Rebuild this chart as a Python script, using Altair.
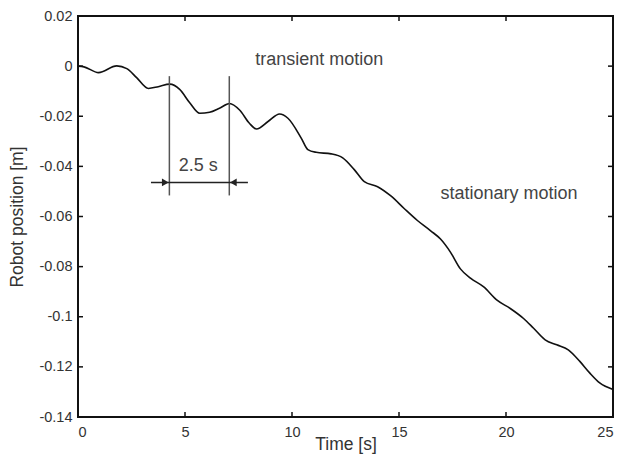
import altair as alt
import pandas as pd

# ---- data ----
time_s = [0, 0.28, 0.96, 1.81, 2.28, 2.74, 3.29, 3.75, 4.29, 4.75, 5.22, 5.69,
          6.15, 6.61, 7.08, 7.55, 8.01, 8.34, 8.88, 9.42, 9.81, 10.43, 10.74,
          11.13, 11.83, 12.37, 12.91, 13.38, 14.0, 14.62, 15.24, 15.86, 16.48,
          16.94, 17.41, 17.87, 18.34, 18.96, 19.58, 20.2, 20.82, 21.29, 21.83,
          22.37, 22.91, 23.45, 23.92, 24.38, 25.0]
position_m = [0.0, -0.0003, -0.0026, 0.0001, -0.0010, -0.0046, -0.0089, -0.0082,
              -0.0072, -0.0093, -0.0146, -0.0188, -0.0184, -0.0168, -0.0149,
              -0.0175, -0.0228, -0.0251, -0.0221, -0.0191, -0.0208, -0.0287,
              -0.0333, -0.0344, -0.0350, -0.0366, -0.0413, -0.0461, -0.0481,
              -0.0518, -0.0568, -0.0616, -0.0657, -0.0690, -0.0743, -0.0809,
              -0.0846, -0.0881, -0.0934, -0.0967, -0.1007, -0.1046, -0.1092,
              -0.1112, -0.1132, -0.1178, -0.1225, -0.1264, -0.1290]

x_ticks = [0, 5, 10, 15, 20, 25]
y_ticks = [0.02, 0, -0.02, -0.04, -0.06, -0.08, -0.1, -0.12, -0.14]

# period marker (2.5 s)
marker_t = [4.27, 7.07]
marker_top = -0.004
marker_bottom = -0.0516
arrow_t = [3.41, 7.94]
arrow_y = -0.0464
head_t = [4.08, 7.26]
head_shape = ["triangle-right", "triangle-left"]

labels_text = ["transient motion", "stationary motion", "2.5 s"]
labels_t = [11.27, 20.14, 5.62]
labels_y = [0.0023, -0.0512, -0.0398]

XT = "Time [s]"
YT = "Robot position [m]"
FONT = "Liberation Sans"
W, H = 535, 401

xs = alt.Scale(domain=[0, 25], nice=False, zero=False)
ys = alt.Scale(domain=[-0.14, 0.02], nice=False, zero=False)

curve = pd.DataFrame({"t": time_s, "y": position_m})
markers = pd.DataFrame({"t": marker_t, "y": [marker_top] * 2, "y2": [marker_bottom] * 2})
arrow = pd.DataFrame({"t": [arrow_t[0]], "t2": [arrow_t[1]], "y": [arrow_y]})
heads = pd.DataFrame({"t": head_t, "y": [arrow_y] * 2, "shape": head_shape})
texts = pd.DataFrame({"t": labels_t, "y": labels_y, "label": labels_text})
xt = pd.DataFrame({"t": x_ticks})
yt = pd.DataFrame({"y": y_ticks})

line = alt.Chart(curve).mark_line(color="#111", strokeWidth=1.6, interpolate="monotone").encode(
    x=alt.X("t:Q", scale=xs, title=XT,
            axis=alt.Axis(values=x_ticks, labelPadding=8, titleX=W / 2, titleY=27,
                          titleAlign="center", titleBaseline="middle")),
    y=alt.Y("y:Q", scale=ys, title=YT,
            axis=alt.Axis(values=y_ticks, labelPadding=6, labelExpr="'' + datum.value",
                          titleX=-61, titleY=H / 2, titleAngle=-90,
                          titleAlign="center", titleBaseline="middle")),
)

mark_lines = alt.Chart(markers).mark_rule(color="#555", strokeWidth=1.5).encode(
    x=alt.X("t:Q", scale=xs, title=XT),
    y=alt.Y("y:Q", scale=ys, title=YT),
    y2="y2:Q",
)

arrow_line = alt.Chart(arrow).mark_rule(color="#222", strokeWidth=1.5).encode(
    x=alt.X("t:Q", scale=xs, title=XT),
    x2="t2:Q",
    y=alt.Y("y:Q", scale=ys, title=YT),
)

arrow_heads = alt.Chart(heads).mark_point(filled=True, size=60, color="#222", opacity=1).encode(
    x=alt.X("t:Q", scale=xs, title=XT),
    y=alt.Y("y:Q", scale=ys, title=YT),
    shape=alt.Shape("shape:N", scale=None),
)

annot = alt.Chart(texts).mark_text(font=FONT, fontSize=18, color="#444").encode(
    x=alt.X("t:Q", scale=xs, title=XT),
    y=alt.Y("y:Q", scale=ys, title=YT),
    text="label:N",
)

tick_style = dict(color="#111", strokeWidth=1.5)
xb = alt.Chart(xt).mark_rule(**tick_style).encode(
    x=alt.X("t:Q", scale=xs, title=XT), y=alt.value(H), y2=alt.value(H - 5))
xtop = alt.Chart(xt).mark_rule(**tick_style).encode(
    x=alt.X("t:Q", scale=xs, title=XT), y=alt.value(0), y2=alt.value(5))
yl = alt.Chart(yt).mark_rule(**tick_style).encode(
    y=alt.Y("y:Q", scale=ys, title=YT), x=alt.value(0), x2=alt.value(5))
yr = alt.Chart(yt).mark_rule(**tick_style).encode(
    y=alt.Y("y:Q", scale=ys, title=YT), x=alt.value(W), x2=alt.value(W - 5))

chart = alt.layer(line, mark_lines, arrow_line, arrow_heads, annot, xb, xtop, yl, yr).properties(
    width=W, height=H,
    autosize=alt.AutoSizeParams(type="none"),
    padding={"left": 70, "top": 8, "right": 1, "bottom": 37},
    background="white",
).configure_view(
    stroke="#111", strokeWidth=2
).configure_axis(
    domain=False, ticks=False, grid=False,
    labelFont=FONT, labelFontSize=14.5, labelColor="#333",
    titleFont=FONT, titleFontSize=17.5, titleFontWeight="normal", titleColor="#333",
)

chart.save("out.html", embed_options={"renderer": "svg", "actions": False})
